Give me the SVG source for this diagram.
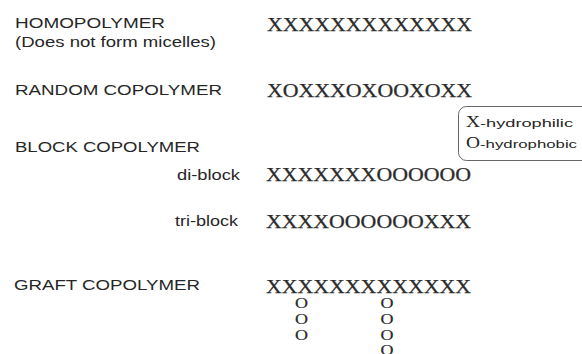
<svg xmlns="http://www.w3.org/2000/svg" width="582" height="354" viewBox="0 0 582 354">
<style>
.lbl{font-family:"Liberation Sans",Arial,sans-serif;font-size:14px;fill:#262626}
.seq{font-family:"Liberation Serif","Times New Roman",serif;font-size:18px;fill:#2b2b2b;stroke:#2b2b2b;stroke-width:0.25}
.sm{font-family:"Liberation Sans",Arial,sans-serif;font-size:11.5px;fill:#262626}
.big{font-family:"Liberation Serif","Times New Roman",serif;font-size:17.5px;fill:#262626}
.o{font-family:"Liberation Serif","Times New Roman",serif;font-size:15px;fill:#2b2b2b;stroke:#2b2b2b;stroke-width:0.2}
</style>
<rect width="582" height="354" fill="#ffffff"/>
<g id="homopolymer">
<text class="lbl" x="15" y="28" textLength="150" lengthAdjust="spacingAndGlyphs">HOMOPOLYMER</text>
<text class="lbl" x="15" y="47" textLength="201" lengthAdjust="spacingAndGlyphs">(Does not form micelles)</text>
<text class="seq" x="267" y="31" textLength="205" lengthAdjust="spacingAndGlyphs">XXXXXXXXXXXXX</text>
</g>
<g id="random">
<text class="lbl" x="15" y="95" textLength="207" lengthAdjust="spacingAndGlyphs">RANDOM COPOLYMER</text>
<text class="seq" x="267" y="97" textLength="205" lengthAdjust="spacingAndGlyphs">XOXXXOXOOXOXX</text>
</g>
<g id="legend">
<rect x="458.5" y="106.5" width="140" height="54" rx="8" fill="none" stroke="#666" stroke-width="1"/>
<text class="big" x="466" y="127" textLength="14" lengthAdjust="spacingAndGlyphs">X</text>
<text class="sm" x="480" y="127" textLength="93" lengthAdjust="spacingAndGlyphs">-hydrophilic</text>
<text class="big" x="466" y="148" textLength="14" lengthAdjust="spacingAndGlyphs">O</text>
<text class="sm" x="480" y="148" textLength="97" lengthAdjust="spacingAndGlyphs">-hydrophobic</text>
</g>
<g id="block">
<text class="lbl" x="15" y="152" textLength="185" lengthAdjust="spacingAndGlyphs">BLOCK COPOLYMER</text>
<text class="lbl" x="177" y="180" textLength="63" lengthAdjust="spacingAndGlyphs">di-block</text>
<text class="seq" x="266" y="181" textLength="205" lengthAdjust="spacingAndGlyphs">XXXXXXXOOOOOO</text>
<text class="lbl" x="175" y="226" textLength="63" lengthAdjust="spacingAndGlyphs">tri-block</text>
<text class="seq" x="266" y="228" textLength="205" lengthAdjust="spacingAndGlyphs">XXXXOOOOOOXXX</text>
</g>
<g id="graft">
<text class="lbl" x="14" y="290" textLength="186" lengthAdjust="spacingAndGlyphs">GRAFT COPOLYMER</text>
<text class="seq" x="266" y="293" textLength="205" lengthAdjust="spacingAndGlyphs">XXXXXXXXXXXXX</text>
<text class="o" x="295" y="307.5" textLength="13" lengthAdjust="spacingAndGlyphs">O</text>
<text class="o" x="295" y="323.5" textLength="13" lengthAdjust="spacingAndGlyphs">O</text>
<text class="o" x="295" y="339.5" textLength="13" lengthAdjust="spacingAndGlyphs">O</text>
<text class="o" x="380.5" y="307.5" textLength="13" lengthAdjust="spacingAndGlyphs">O</text>
<text class="o" x="380.5" y="323.5" textLength="13" lengthAdjust="spacingAndGlyphs">O</text>
<text class="o" x="380.5" y="339.5" textLength="13" lengthAdjust="spacingAndGlyphs">O</text>
<text class="o" x="380.5" y="354.5" textLength="13" lengthAdjust="spacingAndGlyphs">O</text>
</g>
<g id="connectors"></g>
</svg>
